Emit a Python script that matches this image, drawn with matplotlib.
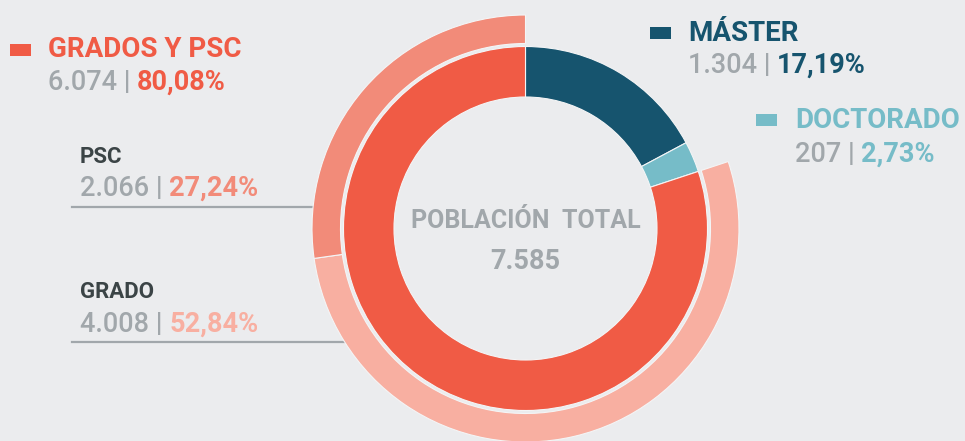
import matplotlib
matplotlib.use('Agg')
import matplotlib.pyplot as plt
from matplotlib.patches import Rectangle

# datos
categorias = ['MÁSTER', 'DOCTORADO', 'GRADOS Y PSC']
totales = [1304, 207, 6074]
porcentajes = ['17,19%', '2,73%', '80,08%']
sub_categorias = ['GRADO', 'PSC']
sub_totales = [4008, 2066]
sub_porcentajes = ['52,84%', '27,24%']
poblacion_total = 7585

# colores
fondo = '#EBECEE'
gris = '#A1A7AB'
oscuro = '#3B4446'
colores = ['#16546E', '#76BCC8', '#F05B45']
sub_colores = ['#F8AFA1', '#F28B79']

plt.rcParams['font.family'] = ['Roboto', 'DejaVu Sans']


def miles(n):
    return '{:,}'.format(n).replace(',', '.')


fig = plt.figure(figsize=(9.65, 4.41), dpi=100, facecolor=fondo)
ax = fig.add_axes([0, 0, 1, 1])
ax.set_facecolor(fondo)

H = 441
cx, cy = 525.5, H - 228.5

# anillo interior
ax.pie(totales, radius=182, center=(cx, cy), startangle=90, counterclock=False,
       colors=colores, wedgeprops=dict(width=50.5, edgecolor='#F4F5F6', linewidth=0.8))

# anillo exterior (solo grados y psc)
cuñas, _ = ax.pie([sum(totales[:2])] + sub_totales, radius=213.5, center=(cx, cy),
                  startangle=90, counterclock=False,
                  colors=['none'] + sub_colores,
                  wedgeprops=dict(width=28.5, edgecolor='#F4F5F6', linewidth=0.8))
cuñas[0].set_visible(False)

ax.set_xlim(0, 965)
ax.set_ylim(0, H)
ax.set_aspect('equal')
ax.axis('off')

# lineas guia
ax.plot([72, 314], [H - 207, H - 207], color=gris, lw=1.6, zorder=0)
ax.plot([72, 345], [H - 342, H - 342], color=gris, lw=1.6, zorder=0)


def linea(x, y, gris_txt, color_txt, color, size=19.5):
    t1 = ax.text(x, H - y, gris_txt, color=gris, fontsize=size, fontweight='medium',
                 va='baseline', ha='left')
    ax.annotate(color_txt, xy=(1, 0), xycoords=t1, xytext=(0, 0),
                textcoords='offset points', color=color,
                fontsize=size, fontweight='semibold', va='bottom', ha='left')


# leyenda principal
cajas = [(10, 44), (650, 27), (756, 114)]
titulos = [(48, 57, 90), (688, 41, 73), (795, 128, 162)]
orden = [2, 0, 1]
for (bx, by), (tx, ty1, ty2), i in zip(cajas, titulos, orden):
    ax.add_patch(Rectangle((bx, H - by - 11.5), 21, 11.5, color=colores[i], lw=0))
    ax.text(tx, H - ty1, categorias[i], color=colores[i], fontsize=20,
            fontweight='semibold', va='baseline', ha='left')
    linea(tx, ty2, miles(totales[i]) + ' | ', porcentajes[i], colores[i])

# subcategorias
sub_pos = [(80, 298, 332), (80, 163, 196)]
for j, (tx, ty1, ty2) in enumerate(sub_pos):
    ax.text(tx, H - ty1, sub_categorias[j], color=oscuro, fontsize=16,
            fontweight='semibold', va='baseline', ha='left')
    linea(tx, ty2, miles(sub_totales[j]) + ' | ', sub_porcentajes[j], sub_colores[j])

# centro
ax.text(cx, H - 228, 'POBLACIÓN  TOTAL', color=gris, fontsize=18,
        fontweight='semibold', ha='center', va='baseline')
ax.text(cx, H - 269, miles(poblacion_total), color=gris, fontsize=19.5,
        fontweight='semibold', ha='center', va='baseline')

fig.savefig('out.png', dpi=100, facecolor=fondo)
